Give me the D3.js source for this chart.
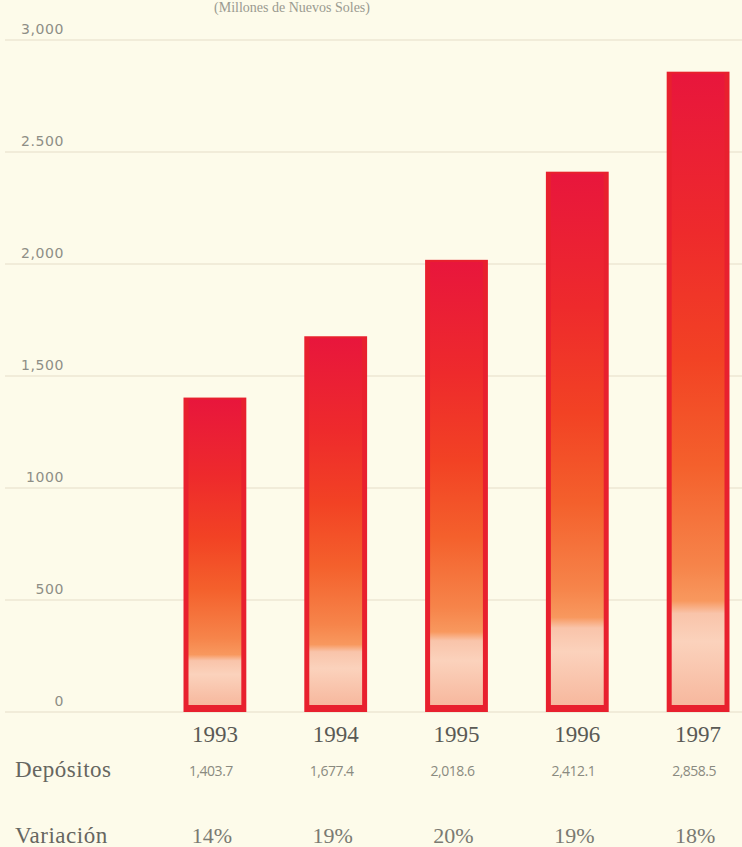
<!DOCTYPE html>
<html><head><meta charset="utf-8">
<script src="https://cdn.jsdelivr.net/npm/d3@7"></script>
<style>html,body{margin:0;padding:0;background:#fdfbea;}svg{display:block;}</style>
</head><body>
<script>
const years = ["1993","1994","1995","1996","1997"];
const depositos = [1403.7, 1677.4, 2018.6, 2412.1, 2858.5];
const depositosLabels = ["1,403.7","1,677.4","2,018.6","2,412.1","2,858.5"];
const variacion = ["14%","19%","20%","19%","18%"];
const tickValues = [0, 500, 1000, 1500, 2000, 2500, 3000];
const tickLabels = ["0","500","1000","1,500","2,000","2.500","3,000"];

const W = 742, H = 847;
const svg = d3.select("body").append("svg").attr("width", W).attr("height", H);
svg.append("rect").attr("width", W).attr("height", H).attr("fill", "#fdfbea");

const y = d3.scaleLinear().domain([0, 3000]).range([712, 40]);
const x = d3.scaleBand().domain(years).range([183.5, 729.5]).paddingInner(0.48).paddingOuter(0);

const defs = svg.append("defs");
const g = defs.append("linearGradient").attr("id", "barGrad")
  .attr("x1", 0).attr("y1", 0).attr("x2", 0).attr("y2", 1);
[[0, "#e8163c"], [0.25, "#ee2a2c"], [0.45, "#f24224"], [0.62, "#f4602c"], [0.78, "#f6844a"],
 [0.835, "#f8985e"], [0.855, "#f9c4aa"], [0.9, "#fbd2bc"], [1, "#f7b89e"]]
 .forEach(([o, c]) => g.append("stop").attr("offset", o).attr("stop-color", c));

// title (partially clipped in the source scan)
svg.append("text").attr("x", 292).attr("y", 12).attr("text-anchor", "middle")
  .attr("font-family", "Liberation Serif, serif").attr("font-size", 14).attr("fill", "#9a9a90")
  .text("(Millones de Nuevos Soles)");

// grid
const axis = d3.axisLeft(y).tickValues(tickValues).tickSize(0).tickFormat((d, i) => tickLabels[i]);
svg.append("g").selectAll("line").data(tickValues).join("line")
  .attr("x1", 5).attr("x2", W).attr("y1", d => y(d)).attr("y2", d => y(d))
  .attr("stroke", "#ece7d3").attr("stroke-width", 1.5);

const ax = svg.append("g").attr("transform", "translate(64,-11)").call(axis);
ax.select(".domain").remove();
ax.selectAll("text").attr("font-family", "DejaVu Sans, sans-serif").attr("font-size", 14)
  .attr("letter-spacing", 0.6).attr("fill", "#8e8e86").attr("dx", 0).attr("x", 0);

// bars
const bars = svg.append("g").selectAll("g").data(years).join("g");
bars.append("rect")
  .attr("x", d => x(d)).attr("width", x.bandwidth())
  .attr("y", (d, i) => y(depositos[i])).attr("height", (d, i) => y(0) - y(depositos[i]))
  .attr("fill", "#e8202e");
bars.append("rect")
  .attr("x", d => x(d) + 5).attr("width", x.bandwidth() - 10)
  .attr("y", (d, i) => y(depositos[i]) + 2).attr("height", (d, i) => y(0) - y(depositos[i]) - 9)
  .attr("fill", "url(#barGrad)");

const serif = "Liberation Serif, 'DejaVu Serif', serif";
svg.append("g").selectAll("text").data(years).join("text")
  .attr("x", d => x(d) + x.bandwidth() / 2).attr("y", 742).attr("text-anchor", "middle")
  .attr("font-family", serif).attr("font-size", 23).attr("fill", "#5a5a55").text(d => d);

svg.append("text").attr("x", 15).attr("y", 777).attr("font-family", serif)
  .attr("font-size", 23).attr("letter-spacing", 0.5).attr("fill", "#666660").text("Depósitos");
svg.append("g").selectAll("text").data(depositosLabels).join("text")
  .attr("x", (d, i) => x(years[i]) + x.bandwidth() / 2 - 4).attr("y", 776).attr("text-anchor", "middle")
  .attr("font-family", "Open Sans, sans-serif").attr("font-size", 14).attr("letter-spacing", -0.5)
  .attr("fill", "#8a8a80").text(d => d);

svg.append("text").attr("x", 15).attr("y", 843).attr("font-family", serif)
  .attr("font-size", 23).attr("letter-spacing", 0.5).attr("fill", "#666660").text("Variación");
svg.append("g").selectAll("text").data(variacion).join("text")
  .attr("x", (d, i) => x(years[i]) + x.bandwidth() / 2 - 3).attr("y", 843).attr("text-anchor", "middle")
  .attr("font-family", serif).attr("font-size", 22).attr("fill", "#7a7a72").text(d => d);
</script>
</body></html>
